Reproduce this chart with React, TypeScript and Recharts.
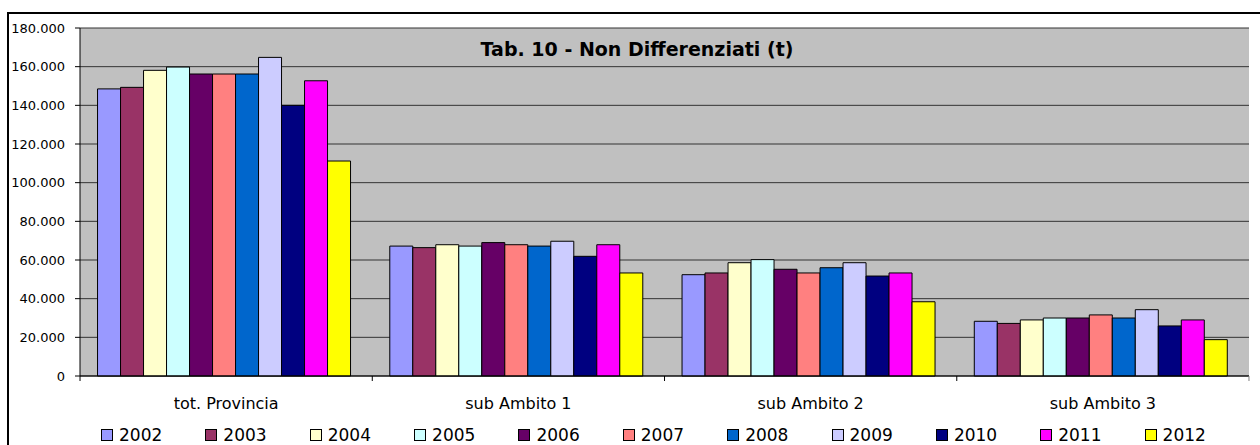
import { BarChart, Bar, XAxis, YAxis, CartesianGrid, Legend } from 'recharts';

const categories = ['tot. Provincia', 'sub Ambito 1', 'sub Ambito 2', 'sub Ambito 3'];
const years = ['2002', '2003', '2004', '2005', '2006', '2007', '2008', '2009', '2010', '2011', '2012'];

const v2002 = [148500, 67200, 52400, 28300];
const v2003 = [149300, 66400, 53300, 27200];
const v2004 = [158100, 67900, 58600, 29000];
const v2005 = [159800, 67200, 60200, 30000];
const v2006 = [156200, 69000, 55200, 30000];
const v2007 = [156200, 67900, 53300, 31600];
const v2008 = [156200, 67200, 56000, 30000];
const v2009 = [164800, 69700, 58600, 34300];
const v2010 = [140000, 61900, 51700, 25900];
const v2011 = [152700, 67900, 53300, 29000];
const v2012 = [111200, 53300, 38400, 18800];

const yTicks = [0, 20000, 40000, 60000, 80000, 100000, 120000, 140000, 160000, 180000];

const series = [v2002, v2003, v2004, v2005, v2006, v2007, v2008, v2009, v2010, v2011, v2012];
const colors = ['#9999FF', '#993366', '#FFFFCC', '#CCFFFF', '#660066', '#FF8080', '#0066CC', '#CCCCFF', '#000080', '#FF00FF', '#FFFF00'];

const data = categories.map((name, i) => {
  const row: Record<string, string | number> = { name };
  years.forEach((y, j) => {
    row[y] = series[j][i];
  });
  return row;
});

const FONT = '"DejaVu Sans", sans-serif';
const HALF_BAND = 146.1;

const fmt = (v: number) => (v === 0 ? '0' : v.toLocaleString('de-DE'));

const CategoryTick = (props: any) => {
  const { x, y, payload, index } = props;
  return (
    <g>
      <line x1={x - HALF_BAND} y1={y} x2={x - HALF_BAND} y2={y + 5} stroke="#000" />
      {index === categories.length - 1 && (
        <line x1={x + HALF_BAND} y1={y} x2={x + HALF_BAND} y2={y + 5} stroke="#808080" />
      )}
      <text x={x} y={y + 33} textAnchor="middle" fontFamily={FONT} fontSize={16} fill="#000">
        {payload.value}
      </text>
    </g>
  );
};

const LegendRow = () => (
  <div style={{ display: 'flex', height: 20, paddingLeft: 101, fontFamily: FONT, fontSize: 17, lineHeight: '20px' }}>
    {years.map((y, i) => (
      <div key={y} style={{ width: 106, display: 'flex', alignItems: 'center' }}>
        <span style={{ width: 10, height: 10, border: '1px solid #000', background: colors[i], marginRight: 6 }} />
        <span>{y}</span>
      </div>
    ))}
  </div>
);

export default function App() {
  return (
    <div style={{ position: 'relative', width: 1260, height: 445, overflow: 'hidden', background: '#fff' }}>
      <style>{'body{margin:0;overflow:hidden}'}</style>
      <div
        style={{
          position: 'absolute',
          left: 7,
          top: 12,
          width: 1300,
          height: 500,
          border: '2px solid #000',
        }}
      />
      <div style={{ position: 'absolute', left: 0, top: 0 }}>
        <BarChart
          width={1260}
          height={445}
          data={data}
          margin={{ top: 28, right: 11, left: 0, bottom: 0 }}
          barGap={0}
          barCategoryGap="6%"
        >
          <CartesianGrid vertical={false} stroke="#333" fill="#C0C0C0" fillOpacity={1} />
          <XAxis
            dataKey="name"
            height={49}
            tickLine={false}
            tickSize={0}
            tickMargin={0}
            axisLine={{ stroke: '#000' }}
            tick={<CategoryTick />}
            interval={0}
          />
          <YAxis
            width={80}
            domain={[0, 180000]}
            ticks={yTicks}
            tickFormatter={fmt}
            tickSize={5}
            tickMargin={10}
            tickLine={{ stroke: '#000' }}
            axisLine={{ stroke: '#000' }}
            tick={{ fontFamily: FONT, fontSize: 13, fill: '#000' }}
            interval={0}
          />
          <YAxis
            yAxisId="frame"
            orientation="right"
            width={0}
            tick={false}
            tickLine={false}
            axisLine={{ stroke: '#808080', strokeWidth: 1.5 }}
          />
          {years.map((y, i) => (
            <Bar key={y} dataKey={y} fill={colors[i]} stroke="#000" strokeWidth={1} isAnimationActive={false} />
          ))}
          <Legend verticalAlign="bottom" height={20} content={<LegendRow />} />
          <text x={637} y={56} textAnchor="middle" fontFamily={FONT} fontSize={19} fontWeight="bold" fill="#000">
            Tab. 10 - Non Differenziati (t)
          </text>
        </BarChart>
      </div>
    </div>
  );
}
